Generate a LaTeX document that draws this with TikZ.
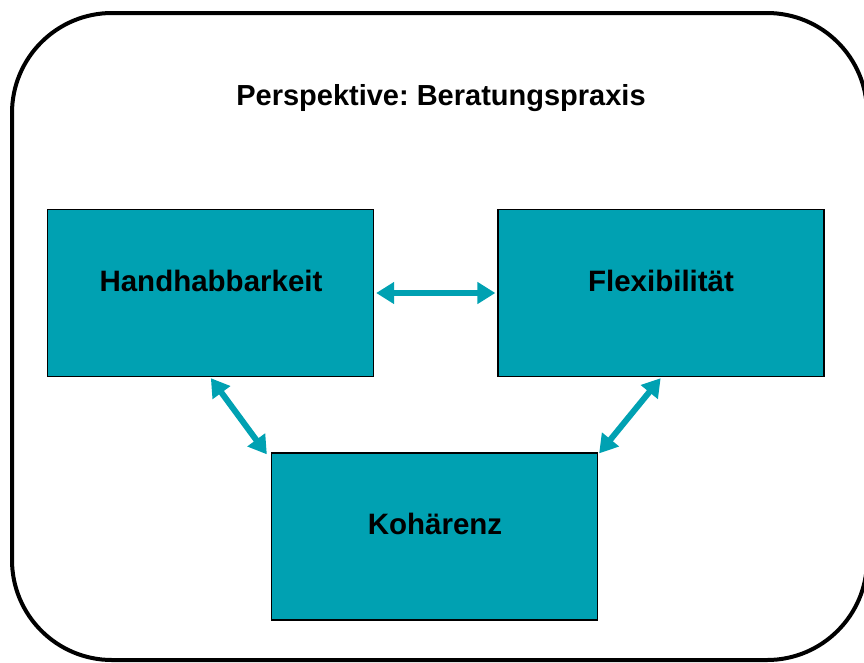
\documentclass[tikz,border=0pt]{standalone}
\usepackage{fontspec}
\setmainfont{Liberation Sans}
\usetikzlibrary{arrows.meta,calc}
\definecolor{teal1}{RGB}{0,161,178}
\frenchspacing
\tikzset{
  box/.style={draw=black,line width=1.3pt,fill=teal1,minimum width=326pt,minimum height=167pt,inner sep=0pt},
  lbl/.style={font=\bfseries\fontsize{29.5}{34}\selectfont},
  link/.style={draw=teal1,line width=6pt,{Triangle[length=18pt,width=21pt]}-{Triangle[length=18pt,width=21pt]}}
}
\begin{document}
\begin{tikzpicture}[x=1pt,y=-1pt]
\useasboundingbox (0,0) rectangle (864,662);
\draw[line width=4pt,rounded corners=100pt] (12,13) rectangle (867,660);
\node[font=\bfseries\fontsize{29}{34}\selectfont] (title) at (441,98.5) {Perspektive: Beratungspraxis};
\node[box] (h) at (210.5,293) {};
\node[lbl] (ht) at (211,281) {Handhabbarkeit};
\node[box] (f) at (661,293) {};
\node[lbl] (ft) at (661,281) {Flexibilität};
\node[box] (k) at (434.5,536.5) {};
\node[lbl] (kt) at (435,524) {Kohärenz};
\draw[link] ([xshift=2pt]h.east) -- ([xshift=-2pt]f.west);
\coordinate (a1) at ([xshift=164pt,yshift=-1pt]h.south west);
\coordinate (a2) at ([xshift=-4pt,yshift=-2pt]k.north west);
\draw[link] (a1) -- (a2);
\coordinate (b1) at ([xshift=-164pt,yshift=-1pt]f.south east);
\coordinate (b2) at ([xshift=1pt,yshift=-1pt]k.north east);
\draw[link] (b1) -- (b2);
\end{tikzpicture}
\end{document}
